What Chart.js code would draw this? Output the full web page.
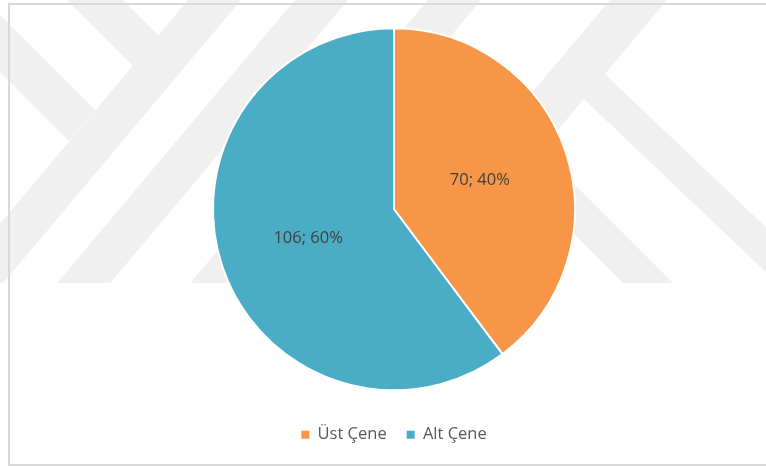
<!DOCTYPE html>
<html>
<head>
<meta charset="utf-8">
<script src="https://cdn.jsdelivr.net/npm/chart.js@4.4.1/dist/chart.umd.min.js"></script>
<style>
  html, body { margin: 0; padding: 0; background: #ffffff; }
  #wrap { width: 766px; height: 466px; position: relative; }
</style>
</head>
<body>
<div id="wrap"><canvas id="chart" width="766" height="466"></canvas></div>
<script>
// Jaw distribution: upper vs lower
const categories = ['Üst Çene', 'Alt Çene'];
const counts = [70, 106];
const sliceColors = ['#F79646', '#4BACC6'];

const FONT = '"Open Sans", "Segoe UI", "DejaVu Sans", sans-serif';

// Light diagonal background emblem (decoration only)
const SLOPE = 0.84; // horizontal shift per pixel of height for "/" bands
function slashBand(x0, w) {
  const y1 = -12, y2 = 292;
  return [[x0 - SLOPE * y1, y1], [x0 + w - SLOPE * y1, y1], [x0 + w - SLOPE * y2, y2], [x0 - SLOPE * y2, y2]];
}
const emblem = [
  slashBand(188, 53),
  slashBand(295, 53),
  slashBand(428, 53),
  slashBand(610, 57),
  [[-12, 3], [95, 110], [69, 141], [-12, 60]],
  [[55, -12], [111, -12], [173, 50], [147, 80]],
  [[589, 59], [790, 250], [790, 295], [568, 84]],
  [[520, 130], [690, 300], [640, 300], [520, 180]]
];

const backdrop = {
  id: 'backdrop',
  beforeDraw(chart) {
    const ctx = chart.ctx;
    ctx.save();
    ctx.fillStyle = '#ffffff';
    ctx.fillRect(0, 0, chart.width, chart.height);
    ctx.beginPath();
    ctx.rect(0, 0, chart.width, 283);
    ctx.clip();
    ctx.fillStyle = '#f0f0f0';
    emblem.forEach(poly => {
      ctx.beginPath();
      poly.forEach(([x, y], i) => (i ? ctx.lineTo(x, y) : ctx.moveTo(x, y)));
      ctx.closePath();
      ctx.fill();
    });
    ctx.restore();
    // chart frame
    ctx.save();
    ctx.strokeStyle = '#d9d9d9';
    ctx.lineWidth = 2;
    ctx.strokeRect(9, 4, 770, 461);
    ctx.restore();
  }
};

const sliceLabels = {
  id: 'sliceLabels',
  afterDatasetsDraw(chart) {
    const ctx = chart.ctx;
    const meta = chart.getDatasetMeta(0);
    const total = counts.reduce((a, b) => a + b, 0);
    ctx.save();
    ctx.font = '16.5px ' + FONT;
    ctx.fillStyle = '#404040';
    ctx.textAlign = 'center';
    ctx.textBaseline = 'middle';
    meta.data.forEach((arc, i) => {
      const p = arc.tooltipPosition();
      const pct = Math.round(counts[i] / total * 100);
      ctx.fillText(counts[i] + '; ' + pct + '%', p.x, p.y);
    });
    ctx.restore();
  }
};

new Chart(document.getElementById('chart'), {
  type: 'pie',
  data: {
    labels: categories,
    datasets: [{
      data: counts,
      backgroundColor: sliceColors,
      borderColor: '#ffffff',
      borderWidth: 2,
      radius: 181
    }]
  },
  options: {
    responsive: false,
    animation: false,
    layout: { padding: { top: 12, bottom: 13, left: 22, right: 0 } },
    plugins: {
      legend: {
        position: 'bottom',
        labels: {
          boxWidth: 8,
          boxHeight: 8,
          padding: 20,
          color: '#595959',
          font: { family: FONT, size: 16.5 },
          generateLabels(chart) {
            const items = Chart.controllers.pie.overrides.plugins.legend.labels.generateLabels(chart);
            return items.map(it => Object.assign(it, { lineWidth: 0, strokeStyle: 'rgba(0,0,0,0)' }));
          }
        }
      },
      tooltip: { enabled: false }
    }
  },
  plugins: [backdrop, sliceLabels]
});
</script>
</body>
</html>
